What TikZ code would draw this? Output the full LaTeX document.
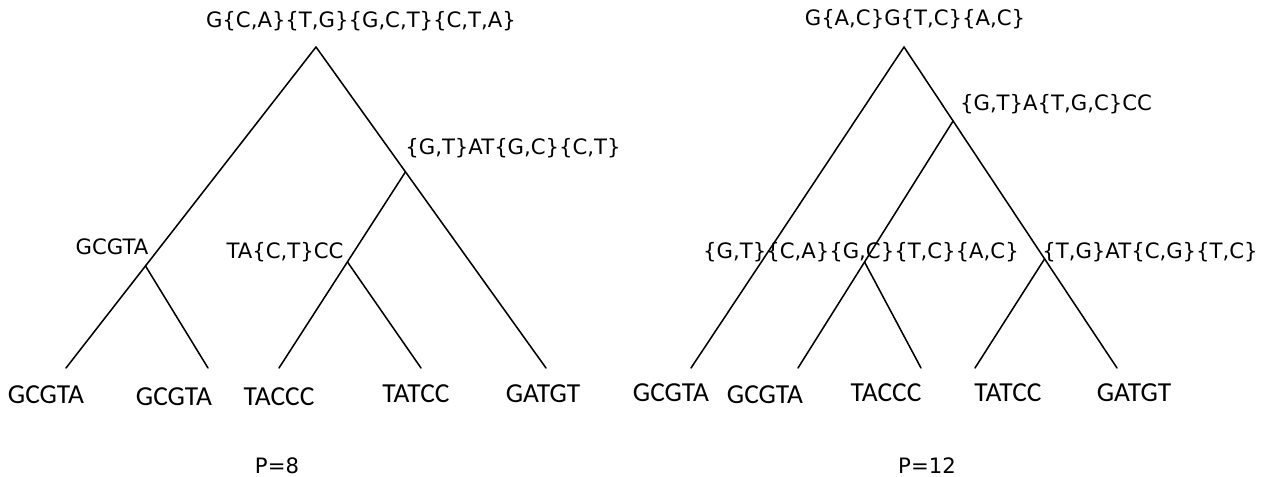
\documentclass[tikz,border=0pt]{standalone}
\usepackage{fontspec}
\usetikzlibrary{calc}
\newfontfamily\labfont{DejaVu Sans}
\newfontfamily\leaffont{Carlito}
\tikzset{
  lab/.style={inner sep=0pt, anchor=base, font=\labfont\fontsize{15.9}{18}\selectfont},
  leaf/.style={inner sep=0pt, anchor=base, font=\leaffont\fontsize{20.6}{24}\selectfont},
  branch/.style={line width=1.15pt, line cap=round}
}
\begin{document}
\begin{tikzpicture}[x=0.75pt,y=-0.75pt]
\useasboundingbox (0,0) rectangle (1274,477);
% ---------- left tree ----------
\coordinate (r1) at (316,47);
\coordinate (l11) at (66,368);
\coordinate (l12) at (208,368);
\coordinate (l13) at (279,368);
\coordinate (l14) at (421,368);
\coordinate (l15) at (546,368);
\coordinate (b1) at ($(r1)!0.682!(l11)$);
\coordinate (a1) at ($(r1)!0.389!(l15)$);
\coordinate (c1) at ($(a1)!0.459!(l13)$);
\draw[branch] (r1) -- (l11);
\draw[branch] (r1) -- (l15);
\draw[branch] (b1) -- (l12);
\draw[branch] (a1) -- (l13);
\draw[branch] (c1) -- (l14);
\node[lab] (t1) at (361,28) {G\{C,A\}\{T,G\}\{G,C,T\}\{C,T,A\}};
\node[lab] (ta1) at (513,155) {\{G,T\}AT\{G,C\}\{C,T\}};
\node[lab] (tb1) at (112,255) {GCGTA};
\node[lab] (tc1) at (285,259) {TA\{C,T\}CC};
\node[leaf] (x11) at (46,403) {GCGTA};
\node[leaf] (x12) at (174,405) {GCGTA};
\node[leaf] (x13) at (279,405) {TACCC};
\node[leaf] (x14) at (416,402) {TATCC};
\node[leaf] (x15) at (543,402) {GATGT};
\node[lab] (p1) at (277,473) {P=8};
% ---------- right tree ----------
\coordinate (r2) at (904,47);
\coordinate (l21) at (691,368);
\coordinate (l22) at (921,368);
\coordinate (l23) at (798,368);
\coordinate (l24) at (975,368);
\coordinate (l25) at (1117,368);
\coordinate (a2) at ($(r2)!0.2305!(l25)$);
\coordinate (b2) at ($(a2)!0.571!(l23)$);
\coordinate (c2) at ($(r2)!0.660!(l25)$);
\draw[branch] (r2) -- (l21);
\draw[branch] (r2) -- (l25);
\draw[branch] (a2) -- (l23);
\draw[branch] (b2) -- (l22);
\draw[branch] (c2) -- (l24);
\node[lab] (t2) at (915,26) {G\{A,C\}G\{T,C\}\{A,C\}};
\node[lab] (ta2) at (1056,111) {\{G,T\}A\{T,G,C\}CC};
\node[lab] (tb2) at (861,259) {\{G,T\}\{C,A\}\{G,C\}\{T,C\}\{A,C\}};
\node[lab] (tc2) at (1150,259) {\{T,G\}AT\{C,G\}\{T,C\}};
\node[leaf] (x21) at (671,401) {GCGTA};
\node[leaf] (x22) at (765,403) {GCGTA};
\node[leaf] (x23) at (886,401) {TACCC};
\node[leaf] (x24) at (1008,401) {TATCC};
\node[leaf] (x25) at (1134,401) {GATGT};
\node[lab] (p2) at (927,473) {P=12};
\end{tikzpicture}
\end{document}
